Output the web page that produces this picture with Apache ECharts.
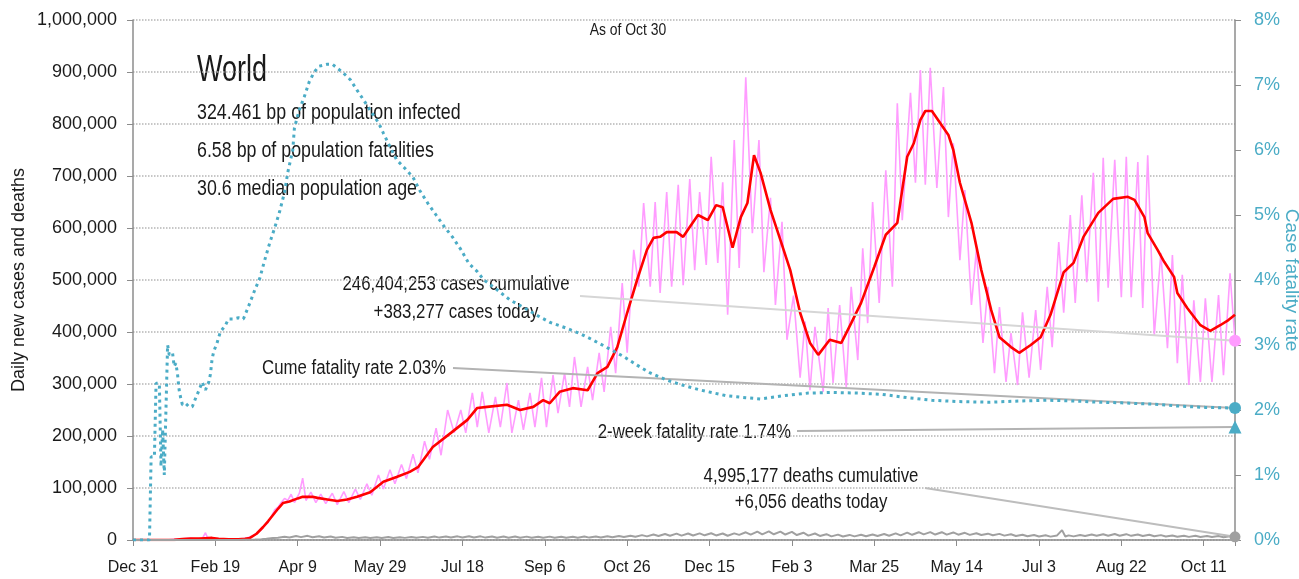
<!DOCTYPE html>
<html>
<head>
<meta charset="utf-8">
<title>World - daily cases, deaths and fatality rate</title>
<script src="https://cdn.jsdelivr.net/npm/echarts@6/dist/echarts.min.js"></script>
<style>
  html, body { margin: 0; padding: 0; background: #fff; }
  #main { width: 1299px; height: 579px; }
</style>
</head>
<body>
<div id="main"></div>
<script>
// day 0 = Dec 31 2019, last day = Oct 30 2021
var lastDay = 669;
var tickDays = 50;

// daily new cases [day, cases]
var dailyCases = [[0,0],[20,0],[25,1500],[28,2000],[32,3000],[35,3500],[38,2500],[42,2000],[44,14000],[45,6000],[48,2500],[52,2000],[56,1000],[60,1500],[63,2000],[66,2500],[69,4000],[72,7000],[75,12000],[78,20000],[80,28000],[82,34000],[84,45000],[86,58000],[88,63000],[90,72000],[92,80000],[94,76000],[96,88000],[98,72000],[101,90000],[103,119000],[105,76000],[108,92000],[111,72000],[114,88000],[117,70000],[121,90000],[124,68000],[128,93000],[131,72000],[135,98000],[138,78000],[142,108000],[145,86000],[149,125000],[152,98000],[156,135000],[159,108000],[163,145000],[166,118000],[170,165000],[173,129000],[177,190000],[180,155000],[184,215000],[187,163000],[191,250000],[195,206000],[199,250000],[202,206000],[206,283000],[209,217000],[212,285000],[216,206000],[220,275000],[223,217000],[227,302000],[230,206000],[234,269000],[237,212000],[241,283000],[244,217000],[248,312000],[251,217000],[255,317000],[258,244000],[262,321000],[265,256000],[268,352000],[272,256000],[276,333000],[279,269000],[283,360000],[286,285000],[290,410000],[293,321000],[297,494000],[300,360000],[304,558000],[307,487000],[310,648000],[314,487000],[317,650000],[320,475000],[324,669000],[327,487000],[331,683000],[334,490000],[338,694000],[341,519000],[344,669000],[348,529000],[351,737000],[355,533000],[358,688000],[361,433000],[365,769000],[368,523000],[372,890000],[376,590000],[380,769000],[383,515000],[387,658000],[390,452000],[394,612000],[397,385000],[401,470000],[405,312000],[408,420000],[411,288000],[414,410000],[419,285000],[422,446000],[425,302000],[429,452000],[433,294000],[436,487000],[440,346000],[443,561000],[446,417000],[449,650000],[453,456000],[457,711000],[461,487000],[464,840000],[467,615000],[472,860000],[475,687000],[478,904000],[481,683000],[484,908000],[488,677000],[492,871000],[495,621000],[498,763000],[502,538000],[505,673000],[509,452000],[512,558000],[516,379000],[519,487000],[523,321000],[526,448000],[530,304000],[533,398000],[537,298000],[540,438000],[544,312000],[548,442000],[551,327000],[555,487000],[558,371000],[562,573000],[565,437000],[569,625000],[572,456000],[576,663000],[579,496000],[583,706000],[586,458000],[589,735000],[592,485000],[596,731000],[600,467000],[603,737000],[606,467000],[610,727000],[613,446000],[616,740000],[620,394000],[624,552000],[628,369000],[631,548000],[634,340000],[637,510000],[641,298000],[644,461000],[648,304000],[651,465000],[655,304000],[659,471000],[662,317000],[666,513000],[669,383277]];

// 7-day average of new cases [day, cases]
var avgCases = [[0,0],[20,0],[25,300],[30,2000],[35,3000],[40,2800],[44,3500],[48,4000],[52,2500],[58,1500],[64,1500],[68,2500],[71,4000],[75,12000],[79,25000],[82,36000],[85,48000],[88,60000],[91,71000],[95,74000],[100,80000],[103,83000],[109,83000],[112,81000],[118,78000],[124,75000],[130,78000],[136,83000],[144,92000],[152,112000],[160,121000],[168,131000],[173,140000],[182,179000],[193,206000],[203,231000],[209,254000],[215,256000],[227,260000],[235,250000],[243,256000],[249,269000],[253,263000],[259,285000],[267,292000],[276,288000],[282,321000],[288,333000],[294,371000],[300,437000],[306,500000],[312,558000],[316,581000],[320,583000],[324,592000],[330,592000],[334,583000],[338,602000],[343,625000],[349,615000],[354,644000],[358,640000],[364,562000],[369,621000],[373,648000],[377,740000],[381,706000],[387,635000],[393,577000],[399,519000],[405,437000],[411,379000],[416,356000],[423,385000],[430,379000],[436,417000],[442,456000],[450,525000],[457,587000],[464,610000],[470,737000],[474,763000],[478,808000],[481,825000],[485,825000],[490,802000],[495,779000],[498,750000],[502,687000],[509,610000],[515,519000],[521,442000],[526,390000],[533,371000],[538,360000],[545,375000],[551,390000],[557,433000],[565,515000],[571,533000],[577,583000],[586,629000],[595,656000],[604,660000],[608,654000],[614,621000],[616,590000],[622,558000],[626,535000],[632,506000],[634,475000],[640,446000],[648,413000],[654,402000],[660,413000],[665,423000],[669,433000]];

// daily new deaths [day, deaths]
var dailyDeaths = [[0,0],[20,0],[30,40],[40,100],[50,120],[60,90],[64,150],[67,300],[71,500],[74,900],[78,1500],[81,2300],[85,3800],[88,4200],[92,6200],[95,5000],[99,7500],[102,5500],[106,8000],[109,5200],[113,7200],[116,4800],[120,6800],[123,4200],[127,6000],[130,3800],[134,5400],[137,3700],[141,5200],[144,3800],[148,5300],[151,3900],[155,5600],[158,4000],[162,5500],[165,4100],[169,5800],[172,4300],[176,6000],[179,4500],[183,6800],[186,4600],[190,6900],[193,4800],[197,7000],[200,4700],[204,7100],[207,4900],[211,7000],[214,4600],[218,6900],[221,4500],[225,6700],[228,4400],[232,6600],[235,4400],[239,6500],[242,4300],[246,6400],[249,4500],[253,6500],[256,4300],[260,6400],[263,4400],[267,6300],[270,4500],[274,6600],[277,4600],[281,6800],[284,4800],[288,7200],[291,5200],[295,7600],[298,5600],[302,8200],[305,6200],[309,9400],[312,7000],[316,10500],[319,7800],[323,11500],[326,8300],[330,12300],[333,8400],[337,12500],[340,8600],[344,12800],[347,9000],[351,13000],[354,8800],[358,12500],[361,8200],[365,12800],[368,9800],[372,14800],[375,10200],[379,16000],[382,10800],[386,16500],[389,11000],[393,16000],[396,10500],[400,15500],[403,9500],[407,14000],[410,8500],[414,12500],[417,7800],[421,11200],[424,7000],[428,10300],[431,6800],[435,9800],[438,7000],[442,10000],[445,7200],[449,10500],[452,7600],[456,11500],[459,8200],[463,12800],[466,9000],[470,14200],[473,10000],[477,15000],[480,10800],[484,15200],[487,10500],[491,15000],[494,10300],[498,14500],[501,10200],[505,13800],[508,9800],[512,13000],[515,9500],[519,12200],[522,9000],[526,11800],[529,8400],[533,11000],[536,7800],[540,10200],[543,7200],[547,9600],[550,6800],[554,9000],[557,6500],[561,8800],[564,19000],[566,6800],[568,8900],[571,7000],[575,9500],[578,7600],[582,10500],[585,8000],[589,11200],[592,8300],[596,11500],[599,8200],[603,11200],[606,8000],[610,10600],[613,7600],[617,10000],[620,7200],[624,9400],[627,6800],[631,8800],[634,6400],[638,8300],[641,6000],[645,8000],[648,5800],[652,7800],[655,5600],[659,7500],[662,5400],[666,7300],[669,6056]];

// cumulative case fatality rate [day, %]
var fatalityRate = [[0,0],[10,0],[11,1.28],[13,1.28],[14,2.41],[16,2.41],[17,1.13],[18,1.7],[19,1.0],[20,1.0],[21,3.0],[22,2.85],[24,2.88],[25,2.67],[26,2.72],[27,2.56],[28,2.31],[29,2.18],[30,2.08],[32,2.1],[34,2.05],[36,2.05],[38,2.18],[40,2.3],[42,2.43],[44,2.31],[45,2.31],[46,2.43],[47,2.55],[48,2.78],[49,2.9],[51,3.03],[53,3.2],[56,3.3],[58,3.4],[61,3.4],[64,3.42],[67,3.4],[68,3.46],[71,3.65],[74,3.85],[77,4.03],[80,4.31],[83,4.57],[86,4.8],[89,5.05],[92,5.35],[94,5.66],[97,6.0],[98,6.34],[101,6.62],[104,6.82],[107,7.05],[110,7.2],[113,7.29],[118,7.32],[121,7.32],[124,7.26],[127,7.2],[132,7.08],[136,6.92],[140,6.77],[145,6.57],[149,6.42],[152,6.26],[156,6.05],[160,5.85],[165,5.72],[170,5.58],[174,5.38],[179,5.18],[184,5.0],[189,4.82],[194,4.66],[199,4.47],[204,4.25],[209,4.13],[213,4.0],[221,3.85],[229,3.69],[237,3.58],[245,3.46],[253,3.35],[263,3.26],[271,3.18],[279,3.08],[290,2.93],[298,2.82],[306,2.69],[314,2.57],[324,2.46],[334,2.38],[344,2.31],[360,2.22],[372,2.19],[381,2.17],[395,2.22],[410,2.26],[425,2.27],[440,2.26],[455,2.24],[470,2.19],[485,2.15],[500,2.13],[520,2.12],[540,2.14],[555,2.15],[570,2.14],[586,2.12],[600,2.11],[619,2.09],[635,2.06],[651,2.04],[669,2.03]];

var casesToday = 383277;
var deathsToday = 6056;
var cumeRate = 2.03;
var twoWeekRate = 1.74;

var FONT = "'Liberation Sans', Arial, sans-serif";
var MONTHS = ['Jan','Feb','Mar','Apr','May','Jun','Jul','Aug','Sep','Oct','Nov','Dec'];

function dayLabel(d) {
    var t = new Date(Date.UTC(2019, 11, 31) + d * 86400000);
    return MONTHS[t.getUTCMonth()] + ' ' + t.getUTCDate();
}

// narrow text: real font size, squeezed sideways
function note(x, y, text, size, sx, align, lh) {
    return {
        type: 'text', x: x, y: y, scaleX: sx,
        style: { text: text, fontSize: size, lineHeight: lh || size * 1.3, fontFamily: FONT, fill: '#1a1a1a', align: align || 'left', verticalAlign: 'middle' }
    };
}

var myChart = echarts.init(document.getElementById('main'));

myChart.setOption({
    animation: false,
    backgroundColor: '#fff',
    textStyle: { fontFamily: FONT },
    grid: { left: 133, right: 64, top: 20, bottom: 39, outerBoundsMode: 'none', containLabel: false },
    xAxis: {
        type: 'value',
        min: 0,
        max: lastDay,
        interval: tickDays,
        axisLine: { lineStyle: { color: '#8c8c8c', width: 1.5 } },
        axisTick: { length: 6, lineStyle: { color: '#8c8c8c' } },
        splitLine: { show: false },
        axisLabel: {
            margin: 20, fontSize: 16, color: '#1a1a1a', fontFamily: FONT,
            formatter: function (v) { return v % tickDays === 0 ? dayLabel(v) : ''; }
        }
    },
    yAxis: [
        {
            type: 'value', min: 0, max: 1000000, interval: 100000,
            name: 'Daily new cases and deaths',
            nameLocation: 'middle', nameGap: 105, nameMoveOverlap: false,
            nameTextStyle: { fontSize: 18, color: '#1a1a1a', fontFamily: FONT },
            axisLine: { show: true, lineStyle: { color: '#8c8c8c', width: 1.5 } },
            axisTick: { show: true, length: 6, lineStyle: { color: '#8c8c8c' } },
            splitLine: { lineStyle: { type: 'dotted', color: '#b5b5b5', width: 1.5 } },
            axisLabel: {
                margin: 16, fontSize: 18, color: '#1a1a1a', fontFamily: FONT,
                formatter: function (v) { return v.toLocaleString('en-US'); }
            }
        },
        {
            type: 'value', min: 0, max: 8, interval: 1, position: 'right',
            name: 'Case fatality rate',
            nameLocation: 'middle', nameGap: 47, nameRotate: -90, nameMoveOverlap: false,
            nameTextStyle: { fontSize: 19, color: '#4bacc6', fontFamily: FONT },
            axisLine: { show: true, lineStyle: { color: '#8c8c8c', width: 1.5 } },
            axisTick: { show: true, length: 6, lineStyle: { color: '#8c8c8c' } },
            splitLine: { show: false },
            axisLabel: {
                margin: 19, fontSize: 18, color: '#4bacc6', fontFamily: FONT,
                formatter: function (v) { return v + '%'; }
            }
        }
    ],
    series: [
        {
            name: 'Daily cases', type: 'line', data: dailyCases,
            showSymbol: false, z: 2,
            lineStyle: { color: '#ff9cff', width: 1.6 },
            markLine: {
                silent: true, symbol: ['none', 'none'], label: { show: false },
                lineStyle: { color: '#d6d6d6', width: 2, type: 'solid' },
                data: [[{ x: 580, y: 296 }, { coord: [lastDay, casesToday] }]]
            },
            markPoint: {
                silent: true, label: { show: false },
                data: [{ coord: [lastDay, casesToday], symbol: 'circle', symbolSize: 12, itemStyle: { color: '#ff9cff' } }]
            }
        },
        {
            name: '7-day average', type: 'line', data: avgCases,
            showSymbol: false, z: 3,
            lineStyle: { color: '#ff0000', width: 2.6 }
        },
        {
            name: 'Daily deaths', type: 'line', data: dailyDeaths,
            showSymbol: false, z: 4,
            lineStyle: { color: '#a0a0a0', width: 2 },
            markLine: {
                silent: true, symbol: ['none', 'none'], label: { show: false },
                lineStyle: { color: '#bdbdbd', width: 2, type: 'solid' },
                data: [[{ x: 925, y: 488 }, { coord: [lastDay, deathsToday] }]]
            },
            markPoint: {
                silent: true, label: { show: false },
                data: [{ coord: [lastDay, deathsToday], symbol: 'circle', symbolSize: 11, itemStyle: { color: '#a0a0a0' } }]
            }
        },
        {
            name: 'Case fatality rate', type: 'line', yAxisIndex: 1, data: fatalityRate,
            showSymbol: false, z: 5,
            lineStyle: { color: '#4bacc6', width: 3, type: [3, 4] },
            markLine: {
                silent: true, symbol: ['none', 'none'], label: { show: false },
                lineStyle: { color: '#b3b3b3', width: 2, type: 'solid' },
                data: [
                    [{ x: 453, y: 368 }, { coord: [lastDay, cumeRate] }],
                    [{ x: 797, y: 431 }, { coord: [lastDay, twoWeekRate] }]
                ]
            },
            markPoint: {
                silent: true, label: { show: false },
                data: [
                    { coord: [lastDay, cumeRate], symbol: 'circle', symbolSize: 12, itemStyle: { color: '#4bacc6' } },
                    { coord: [lastDay, twoWeekRate], symbol: 'triangle', symbolSize: 13, itemStyle: { color: '#4bacc6' } }
                ]
            }
        }
    ],
    graphic: [
        note(628, 31, 'As of Oct 30', 16, 0.87, 'center'),
        note(197, 71, 'World', 36, 0.75),
        note(197, 113, '324.461 bp of population infected', 22, 0.81),
        note(197, 151, '6.58 bp of population fatalities', 22, 0.81),
        note(197, 189, '30.6 median population age', 22, 0.81),
        note(456, 298, '246,404,253 cases cumulative\n+383,277 cases today', 20, 0.84, 'center', 28),
        note(446, 368, 'Cume fatality rate 2.03%', 20, 0.84, 'right'),
        note(791, 432, '2-week fatality rate 1.74%', 20, 0.84, 'right'),
        note(811, 489, '4,995,177 deaths cumulative\n+6,056 deaths today', 20, 0.84, 'center', 26)
    ]
});
</script>
</body>
</html>
